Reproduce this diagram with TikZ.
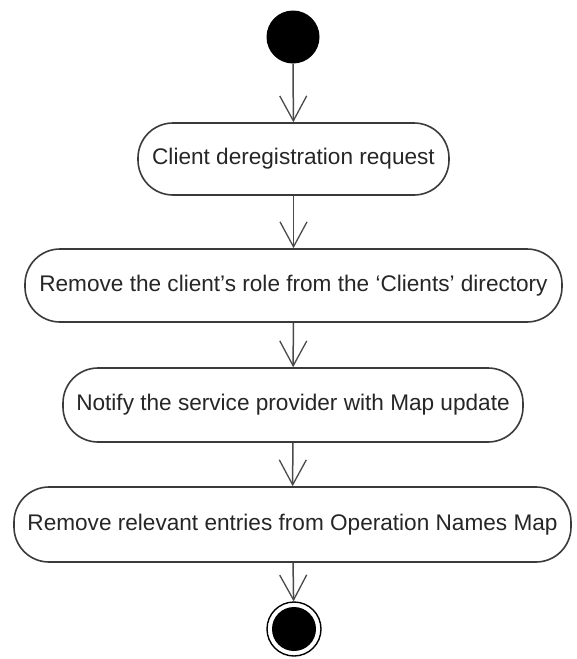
\documentclass[tikz,border=0pt]{standalone}
\usepackage{fontspec}
\setmainfont{Liberation Sans}
\usetikzlibrary{arrows.meta}
\definecolor{edge}{HTML}{3A3A3A}
\definecolor{flow}{HTML}{4A4A4A}
\definecolor{txt}{HTML}{262626}
\begin{document}
\begin{tikzpicture}[x=1pt,y=-1pt,
  act/.style={draw=edge, line width=1.6pt, rounded corners=35pt, fill=white,
    inner sep=0pt, align=center, text=txt,
    font=\fontsize{22.6}{26}\selectfont},
  flowline/.style={draw=flow, line width=1.5pt,
    -{Straight Barb[length=25pt,width=27pt,line width=1.3pt]}}]
\useasboundingbox (0,0) rectangle (576,659);
\fill[white] (0,0) rectangle (576,659);
% start
\node[circle, fill=black, minimum size=53pt, inner sep=0pt] (start) at (293,37) {};
% activities
\node[act, minimum width=311pt, minimum height=72pt] (a1) at (293.5,159) {Client deregistration request};
\node[act, minimum width=537pt, minimum height=73pt] (a2) at (293.5,285.5) {Remove the client’s role from the ‘Clients’ directory};
\node[act, minimum width=460pt, minimum height=74pt] (a3) at (293,405) {Notify the service provider with Map update};
\node[act, minimum width=557pt, minimum height=75pt] (a4) at (292.5,524.5) {Remove relevant entries from Operation Names Map};
% end
\node[circle, draw=black, line width=1.4pt, minimum size=54pt, inner sep=0pt] (endo) at (294,629) {};
\node[circle, fill=black, minimum size=44pt, inner sep=0pt] (endi) at (294,629) {};
% flows
\draw[flowline] (start) -- (a1);
\draw[flowline] (a1) -- (a2.north -| a1.south);
\draw[flowline] (a2) -- (a3);
\draw[flowline] (a3) -- (a4);
\draw[flowline] (a4) -- (endo);
\end{tikzpicture}
\end{document}
